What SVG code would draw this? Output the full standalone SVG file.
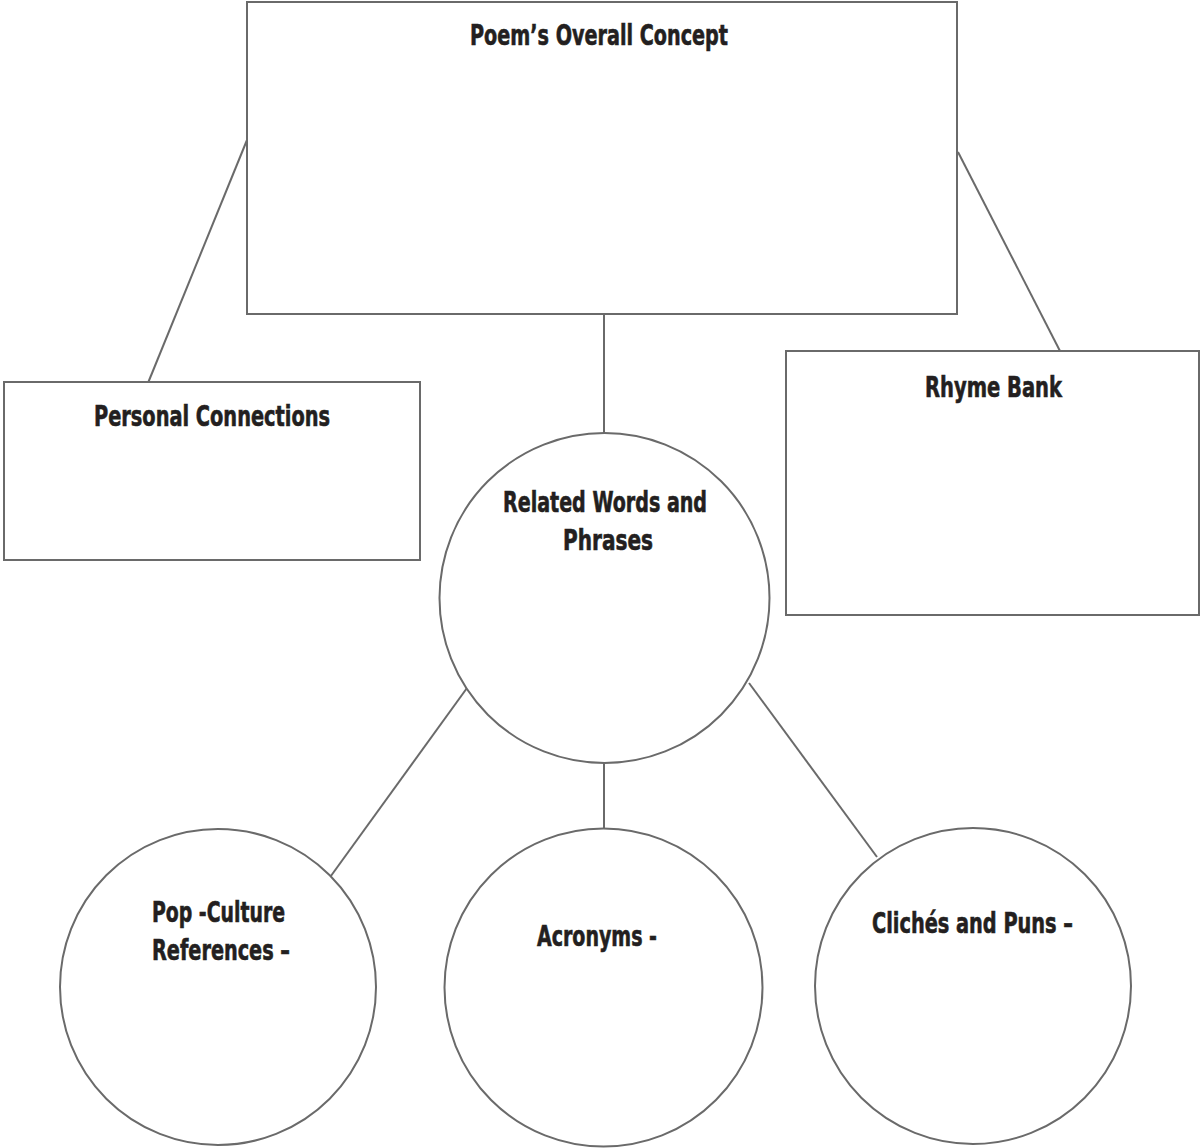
<svg xmlns="http://www.w3.org/2000/svg" width="1200" height="1148" viewBox="0 0 1200 1148">
<style>
.shape{fill:#fff;stroke:#6a6a6a;stroke-width:2}
.conn line{stroke:#6a6a6a;stroke-width:2}
text{font-family:"DejaVu Sans Condensed","Liberation Sans Narrow","Liberation Sans",sans-serif;font-weight:bold;font-size:28px;fill:#231f20;stroke:#231f20;stroke-width:0.6}
</style>
<rect width="1200" height="1148" fill="#fff"/>
<g id="connectors" class="conn">
<line x1="247" y1="140" x2="148" y2="383"/>
<line x1="958" y1="152" x2="1060" y2="351"/>
<line x1="604" y1="314" x2="604" y2="433"/>
<line x1="467" y1="688" x2="328" y2="880"/>
<line x1="604" y1="762" x2="604" y2="829"/>
<line x1="749" y1="683" x2="877" y2="857"/>
</g>
<g id="concept">
<rect class="shape" x="247" y="2" width="710" height="312"/>
<text x="470" y="45" textLength="258" lengthAdjust="spacingAndGlyphs">Poem’s Overall Concept</text>
</g>
<g id="personal">
<rect class="shape" x="4" y="382" width="416" height="178"/>
<text x="94" y="426" textLength="236" lengthAdjust="spacingAndGlyphs">Personal Connections</text>
</g>
<g id="rhyme">
<rect class="shape" x="786" y="351" width="413" height="264"/>
<text x="925" y="397" textLength="137" lengthAdjust="spacingAndGlyphs">Rhyme Bank</text>
</g>
<g id="related">
<circle class="shape" cx="604.5" cy="598" r="165"/>
<text x="503" y="512" textLength="204" lengthAdjust="spacingAndGlyphs">Related Words and</text>
<text x="563" y="550" textLength="90" lengthAdjust="spacingAndGlyphs">Phrases</text>
</g>
<g id="popculture">
<circle class="shape" cx="218" cy="987" r="158"/>
<text x="152" y="922" textLength="133" lengthAdjust="spacingAndGlyphs">Pop -Culture</text>
<text x="152" y="960" textLength="138" lengthAdjust="spacingAndGlyphs">References –</text>
</g>
<g id="acronyms">
<circle class="shape" cx="603.5" cy="987.5" r="159"/>
<text x="537" y="946" textLength="120" lengthAdjust="spacingAndGlyphs">Acronyms -</text>
</g>
<g id="cliches">
<circle class="shape" cx="973" cy="986" r="158"/>
<text x="872" y="933" textLength="201" lengthAdjust="spacingAndGlyphs">Clichés and Puns –</text>
</g>
</svg>
